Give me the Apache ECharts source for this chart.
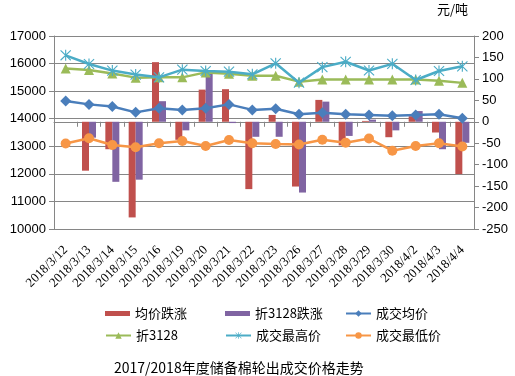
<!DOCTYPE html>
<html><head><meta charset="utf-8">
<script src="https://cdn.jsdelivr.net/npm/echarts@6/dist/echarts.min.js"></script>
<style>html,body{margin:0;padding:0;background:#fff}#c{width:515px;height:376px}</style>
</head><body><div id="c"></div>
<script>
var categories = ['2018/3/12','2018/3/13','2018/3/14','2018/3/15','2018/3/16','2018/3/19','2018/3/20','2018/3/21','2018/3/22','2018/3/23','2018/3/26','2018/3/27','2018/3/28','2018/3/29','2018/3/30','2018/4/2','2018/4/3','2018/4/4'];
var avgChange   = [null, -114, -64, -223, 139, -42, 75, 76, -157, 16, -151, 51, -55, 2, -36, 13, -25, -122];
var z3128Change = [null, -37, -140, -135, 48, -20, 112, -3, -35, -35, -165, 47, -33, 5, -20, 25, -64, -49];
var avgPrice  = [14640, 14520, 14440, 14230, 14380, 14320, 14380, 14520, 14320, 14360, 14160, 14220, 14160, 14135, 14110, 14135, 14160, 14015];
var z3128     = [15820, 15770, 15640, 15490, 15500, 15500, 15680, 15630, 15560, 15560, 15345, 15420, 15420, 15420, 15420, 15420, 15380, 15300];
var highPrice = [16300, 15985, 15745, 15600, 15500, 15780, 15730, 15706, 15610, 16010, 15307, 15870, 16065, 15750, 15990, 15404, 15730, 15900];
var lowPrice  = [13100, 13290, 13047, 12963, 13108, 13192, 13010, 13228, 13108, 13083, 13065, 13240, 13132, 13280, 12840, 13010, 13108, 12990];
var leftTicks = {min: 10000, max: 17000, interval: 1000};
var rightTicks = {min: -250, max: 200, interval: 50};

var names = ['均价跌涨','折3128跌涨','成交均价','折3128','成交最高价','成交最低价'];
var colors = ['#C0504D','#8064A2','#4A7EBB','#9BBB59','#4BACC6','#F79646'];
var asterisk = 'path://M9 0 L11 0 L11 20 L9 20 Z M0.3 1.7 L1.7 0.3 L19.7 18.3 L18.3 19.7 Z M18.3 0.3 L19.7 1.7 L1.7 19.7 L0.3 18.3 Z';
var cjk = '"Noto Sans CJK SC", sans-serif';
var axisGray = '#868686';

var chart = echarts.init(document.getElementById('c'));
var legendPos = [[105,307],[225,307],[345,307],[105,329],[225,329],[345,329]];
var legends = names.map(function(n, i){
  return {
    data: [i < 2 ? {name: n, icon: 'rect'} : n],
    left: legendPos[i][0], top: legendPos[i][1], padding: 0,
    itemWidth: 25, itemHeight: i < 2 ? 5 : 8,
    selectedMode: false,
    textStyle: {fontFamily: cjk, fontSize: 13, color: '#000'}
  };
});
function lineSeries(idx, data, symbol, size){
  return {
    name: names[idx], type: 'line', yAxisIndex: 0, data: data,
    symbol: symbol, symbolSize: size, showSymbol: true,
    itemStyle: {color: colors[idx]},
    lineStyle: {color: colors[idx], width: 2.5},
    z: 3 + idx
  };
}
chart.setOption({
  animation: false,
  textStyle: {fontFamily: '"Liberation Sans", Arial, sans-serif'},
  legend: legends,
  title: {
    text: '2017/2018年度储备棉轮出成交价格走势',
    left: 109, top: 356,
    textStyle: {fontFamily: cjk, fontSize: 14, fontWeight: 'normal', color: '#000'}
  },
  graphic: [{type: 'text', left: 437, top: 3, style: {text: '元/吨', font: '13px "Noto Sans CJK SC"', fill: '#000'}}],
  grid: {left: 54, right: 41, top: 36, height: 193},
  xAxis: {
    type: 'category', data: categories, boundaryGap: true,
    axisLine: {lineStyle: {color: axisGray}},
    axisTick: {show: true, length: 5, lineStyle: {color: axisGray}},
    axisLabel: {interval: 0, rotate: 45, margin: 19, color: '#000', fontFamily: '"Liberation Serif", "Times New Roman", serif', fontSize: 13}
  },
  yAxis: [{
    type: 'value', min: leftTicks.min, max: leftTicks.max, interval: leftTicks.interval,
    axisLine: {show: true, lineStyle: {color: axisGray}},
    axisTick: {show: true, length: 5, lineStyle: {color: axisGray}},
    axisLabel: {color: '#000', fontSize: 13, margin: 8, formatter: function(v){ return String(v); }},
    splitLine: {lineStyle: {color: axisGray, width: 1}}
  }, {
    type: 'value', min: rightTicks.min, max: rightTicks.max, interval: rightTicks.interval,
    position: 'right',
    axisLine: {show: true, lineStyle: {color: axisGray}},
    axisTick: {show: true, length: 5, lineStyle: {color: axisGray}},
    axisLabel: {color: '#000', fontSize: 13, margin: 8, formatter: function(v){ return String(v); }},
    splitLine: {show: false}
  }],
  series: [
    {name: names[0], type: 'bar', yAxisIndex: 1, data: avgChange, barWidth: 7, barGap: '0%', itemStyle: {color: colors[0]}, z: 1},
    {name: names[1], type: 'bar', yAxisIndex: 1, data: z3128Change, barWidth: 7, barGap: '0%', itemStyle: {color: colors[1]}, z: 1},
    lineSeries(2, avgPrice, 'diamond', 11),
    lineSeries(3, z3128, 'triangle', 10),
    lineSeries(4, highPrice, asterisk, 11),
    lineSeries(5, lowPrice, 'circle', 10)
  ]
});
</script></body></html>
